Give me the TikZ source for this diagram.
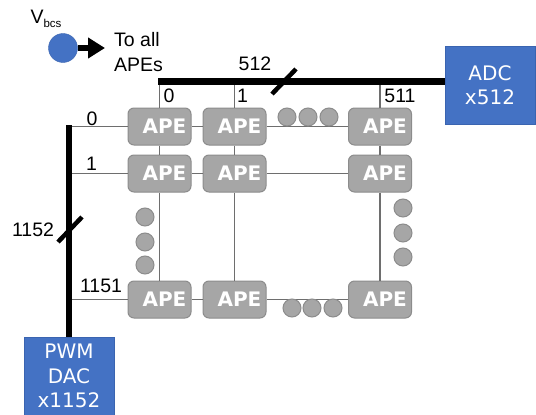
\documentclass[tikz,border=0pt]{standalone}
\usepackage{fontspec}
\setmainfont{Liberation Sans}
\newfontfamily\boxfont{DejaVu Sans}
\usetikzlibrary{arrows.meta}
\definecolor{apegray}{HTML}{A6A6A6}
\definecolor{apeedge}{HTML}{8C8C8C}
\definecolor{wiregray}{HTML}{6E6E6E}
\definecolor{blockblue}{HTML}{4472C4}
\definecolor{blockedge}{HTML}{3A64B0}
\begin{document}
\begin{tikzpicture}[x=1pt, y=-1pt, font=\fontsize{19.5}{25}\selectfont,
    ape/.style={draw=apeedge, fill=apegray, rounded corners=6pt, line width=1pt,
      minimum width=63pt, minimum height=37pt, inner sep=0pt, text=white,
      font=\boxfont\bfseries\fontsize{20}{20}\selectfont,
      execute at begin node={\hspace*{10pt}}},
    dot/.style={circle, draw=apeedge, fill=apegray, line width=1pt,
      minimum size=18pt, inner sep=0pt},
    block/.style={draw=blockedge, fill=blockblue, line width=0.8pt, text=white,
      align=center, inner sep=0pt, minimum width=90pt, minimum height=78pt,
      font=\boxfont\fontsize{20}{24.5}\selectfont},
    wire/.style={draw=wiregray, line width=1.2pt},
    bus/.style={line width=6.5pt},
    slash/.style={line width=4.5pt},
    lbl/.style={inner sep=0pt}]
    \useasboundingbox (0,0) rectangle (536,415);

    % Parameters
    \def\colA{159.5}
    \def\colB{234.5}
    \def\colC{380}
    \def\rowA{126.5}
    \def\rowB{173.5}
    \def\rowC{299.5}

    % APE array
    \node[ape] (ape11) at (\colA,\rowA) {APE};
    \node[ape] (ape12) at (\colB,\rowA) {APE};
    \node[ape] (ape13) at (\colC,\rowA) {APE};
    \node[ape] (ape21) at (\colA,\rowB) {APE};
    \node[ape] (ape22) at (\colB,\rowB) {APE};
    \node[ape] (ape23) at (\colC,\rowB) {APE};
    \node[ape] (ape31) at (\colA,\rowC) {APE};
    \node[ape] (ape32) at (\colB,\rowC) {APE};
    \node[ape] (ape33) at (\colC,\rowC) {APE};

    % Converters and busses
    \node[block] (adc) at (490,85) {ADC\\x512};
    \node[block] (dac) at (69,376) {PWM\\DAC\\x1152};
    \coordinate (topbus) at (158,81.5);
    \coordinate (leftbus) at (69,125);

    % Column wires
    \draw[wire] (ape11.north |- topbus) -- (ape11.north);
    \draw[wire] (ape12.north |- topbus) -- (ape12.north);
    \draw[wire] (ape13.north |- topbus) -- (ape13.north);
    \draw[wire] (ape11) -- (ape21);
    \draw[wire] (ape12) -- (ape22);
    \draw[wire] (ape13) -- (ape23);
    \draw[wire] (ape21) -- (ape31);
    \draw[wire] (ape22) -- (ape32);
    \draw[wire] (ape23) -- (ape33);

    % Row wires
    \draw[wire] (leftbus |- ape11.west) -- (ape11.west);
    \draw[wire] (leftbus |- ape21.west) -- (ape21.west);
    \draw[wire] (leftbus |- ape31.west) -- (ape31.west);
    \draw[wire] (ape11) -- (ape12);
    \draw[wire] (ape21) -- (ape22);
    \draw[wire] (ape31) -- (ape32);
    \draw[wire] (ape12) -- (ape13);
    \draw[wire] (ape22) -- (ape23);
    \draw[wire] (ape32) -- (ape33);

    \draw[bus] (topbus) -- (topbus -| adc.west);
    \draw[bus] (leftbus) -- (dac.north);
    \draw[slash] (272,94) -- (296,69);
    \draw[slash] (58,242) -- (82,217);

    % Ellipsis dots
    \node[dot] (rdotA1) at (287,117) {};
    \node[dot] (rdotA2) at (308,117) {};
    \node[dot] (rdotA3) at (329,117) {};
    \node[dot] (rdotC1) at (292,308) {};
    \node[dot] (rdotC2) at (312,308) {};
    \node[dot] (rdotC3) at (333,308) {};
    \node[dot] (cdotA1) at (145,217) {};
    \node[dot] (cdotA2) at (145,242) {};
    \node[dot] (cdotA3) at (145,265) {};
    \node[dot] (cdotC1) at (403,208) {};
    \node[dot] (cdotC2) at (403,233) {};
    \node[dot] (cdotC3) at (403,257) {};

    % Bus labels
    \node[lbl] (lab512) at (255,64) {512};
    \node[lbl] (labc0) at (169,96) {0};
    \node[lbl] (labc1) at (242.5,96) {1};
    \node[lbl] (labc511) at (400,95.5) {511};
    \node[lbl] (labr0) at (92,118.5) {0};
    \node[lbl] (labr1) at (91.5,163.5) {1};
    \node[lbl] (labr1151) at (101,285.5) {1151};
    \node[lbl] (lab1152) at (33,230) {1152};

    % Bias voltage
    \node[circle, draw=blockedge, fill=blockblue, minimum size=29pt, inner sep=0pt]
      (vbcs) at (63,48) {};
    \node[lbl] (vbcslab) at (46,19) {V\raisebox{-0.45ex}{\fontsize{11.5}{12}\selectfont bcs}};
    \coordinate (vtip) at (105,48);
    \draw[line width=6.5pt, -{Triangle[width=20pt,length=17pt]}] (vbcs) -- (vtip);
    \node[lbl, anchor=west, align=left] (toall) at (114,52) {To all\\APEs};
  \end{tikzpicture}
\end{document}
